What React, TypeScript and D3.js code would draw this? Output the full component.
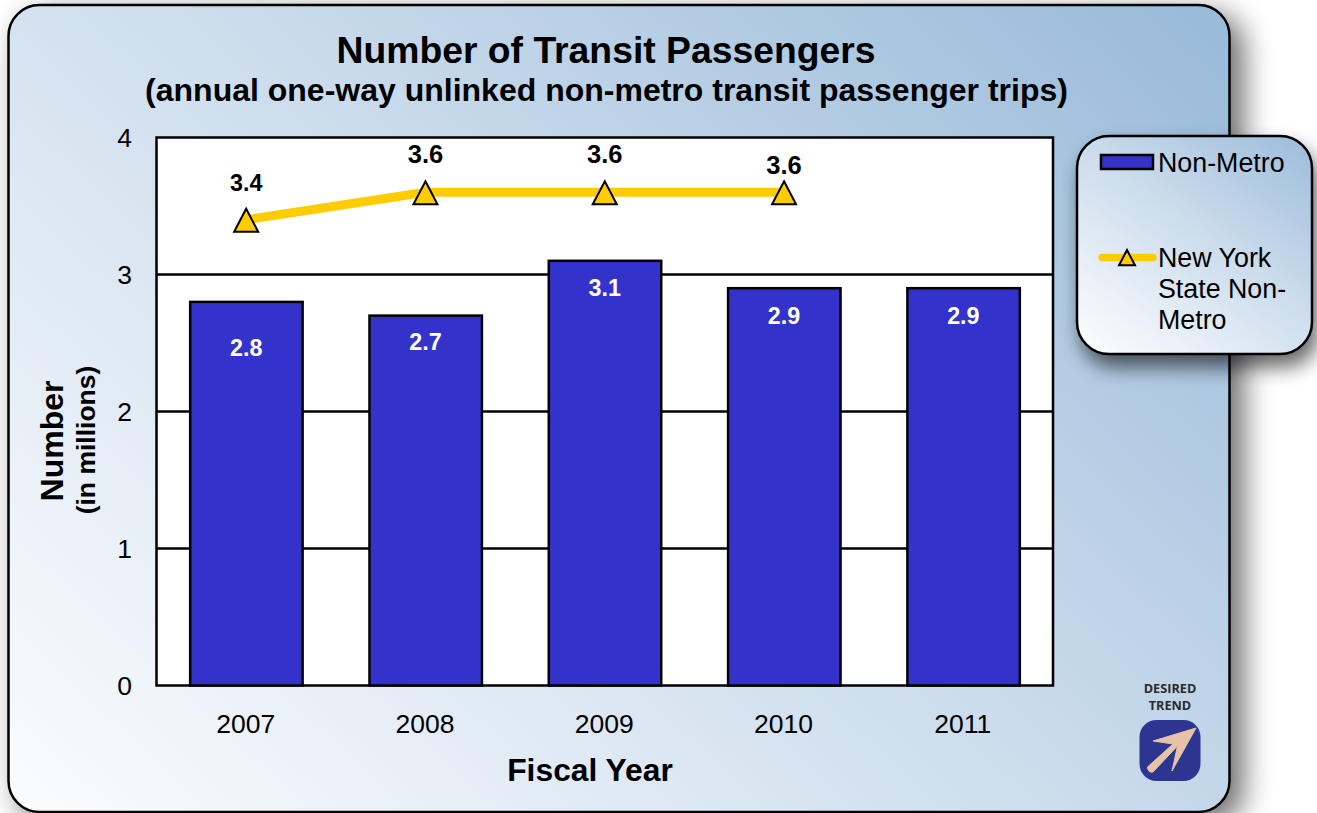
import React from "react";
import * as d3 from "d3";

const years = ["2007", "2008", "2009", "2010", "2011"];
const nonMetro = [2.8, 2.7, 3.1, 2.9, 2.9];
const nyYears = ["2007", "2008", "2009", "2010"];
const nyNonMetro = [3.4, 3.6, 3.6, 3.6];
const yTicks = [0, 1, 2, 3, 4];
const legendLines = ["New York", "State Non-", "Metro"];

const W = 1317, H = 813;
const FONT = "'Liberation Sans', Arial, sans-serif";
const plot = { l: 156.5, r: 1053, t: 137.5, b: 685.5 };

export default function App() {
  const x = d3.scaleBand<string>().domain(years).range([plot.l, plot.r]).paddingInner(0.37).paddingOuter(0.185);
  const y = d3.scaleLinear().domain([0, 4]).range([plot.b, plot.t]);
  const cx = (d: string) => (x(d) as number) + x.bandwidth() / 2;
  const line = d3.line<number>().x((_, i) => cx(nyYears[i])).y((d) => y(d));
  const tri = (px: number, py: number, s: number) =>
    `M${px},${py - s}L${px + s},${py + s * 0.92}L${px - s},${py + s * 0.92}Z`;
  // Hand-placed data labels in the source chart
  const barLabelY = (d: string, v: number) => y(v) + (d === "2007" ? 54 : d === "2008" ? 34.5 : 35.5);
  const lineLabelY = (d: string, v: number) => y(v) - 28.5 + (d === "2010" ? 10 : d === "2007" ? 0 : -1);
  return (
    <svg width={W} height={H} style={{ position: "fixed", left: 0, top: 0, display: "block", background: "#fff" }} fontFamily={FONT}>
      <defs>
        <linearGradient id="panelGrad" gradientUnits="userSpaceOnUse" x1={130} y1={1000} x2={1110} y2={-60}>
          <stop offset="0" stopColor="#ffffff" />
          <stop offset="0.55" stopColor="#cbdcec" />
          <stop offset="1" stopColor="#9abbda" />
        </linearGradient>
        <linearGradient id="legendGrad" gradientUnits="userSpaceOnUse" x1={1100} y1={375} x2={1290} y2={115}>
          <stop offset="0" stopColor="#ffffff" />
          <stop offset="0.55" stopColor="#cbdcec" />
          <stop offset="1" stopColor="#9abbda" />
        </linearGradient>
        <filter id="panelShadow" x="-5%" y="-5%" width="112%" height="115%">
          <feGaussianBlur in="SourceAlpha" stdDeviation="15" />
          <feOffset dx="12" dy="10" />
          <feComponentTransfer><feFuncA type="linear" slope="0.6" /></feComponentTransfer>
          <feMerge><feMergeNode /><feMergeNode in="SourceGraphic" /></feMerge>
        </filter>
        <filter id="legendShadow" x="-15%" y="-15%" width="135%" height="140%">
          <feGaussianBlur in="SourceAlpha" stdDeviation="10" />
          <feOffset dx="5" dy="12" />
          <feComponentTransfer><feFuncA type="linear" slope="0.6" /></feComponentTransfer>
          <feMerge><feMergeNode /><feMergeNode in="SourceGraphic" /></feMerge>
        </filter>
      </defs>

      <rect x={8.5} y={5} width={1221} height={807} rx={31} fill="url(#panelGrad)" stroke="#000" strokeWidth={2.5} filter="url(#panelShadow)" />

      <text x={606} y={63} textAnchor="middle" fontSize={37.3} fontWeight={700} fill="#000">Number of Transit Passengers</text>
      <text x={606.5} y={101} textAnchor="middle" fontSize={32} fontWeight={700} fill="#000">(annual one-way unlinked non-metro transit passenger trips)</text>

      <rect x={plot.l} y={plot.t} width={plot.r - plot.l} height={plot.b - plot.t} fill="#fff" />
      {yTicks.slice(1, 4).map((t) => (
        <line key={t} x1={plot.l} x2={plot.r} y1={y(t)} y2={y(t)} stroke="#000" strokeWidth={2.5} />
      ))}
      <rect x={plot.l} y={plot.t} width={plot.r - plot.l} height={plot.b - plot.t} fill="none" stroke="#000" strokeWidth={2.5} />

      {years.map((d, i) => (
        <g key={d}>
          <rect x={(x(d) as number) + 0.5} y={y(nonMetro[i])} width={x.bandwidth() - 0.5} height={plot.b - y(nonMetro[i])} fill="#3333cc" stroke="#000" strokeWidth={2.5} />
          <text x={cx(d)} y={barLabelY(d, nonMetro[i])} textAnchor="middle" fontSize={23.3} fontWeight={700} fill="#fff">{nonMetro[i].toFixed(1)}</text>
          <text x={cx(d) - 0.5} y={733} textAnchor="middle" fontSize={26.5} fill="#000">{d}</text>
        </g>
      ))}

      <path d={line(nyNonMetro) as string} fill="none" stroke="#ffcc00" strokeWidth={9} />
      {nyNonMetro.map((v, i) => (
        <g key={nyYears[i]}>
          <path d={tri(cx(nyYears[i]), y(v) + 1, 12)} fill="#ffcc00" stroke="#000" strokeWidth={2} />
          <text x={cx(nyYears[i])} y={lineLabelY(nyYears[i], v)} textAnchor="middle" fontSize={nyYears[i] === "2007" ? 23.3 : 25.5} fontWeight={700} fill="#000">{v.toFixed(1)}</text>
        </g>
      ))}

      {yTicks.map((t) => (
        <text key={t} x={132} y={y(t) + 9} textAnchor="end" fontSize={26.5} fill="#000">{t}</text>
      ))}

      <text transform="translate(63,441) rotate(-90)" textAnchor="middle" fontSize={32} fontWeight={700} fill="#000">Number</text>
      <text transform="translate(95,440) rotate(-90)" textAnchor="middle" fontSize={26.5} fontWeight={700} fill="#000">(in millions)</text>
      <text x={590} y={781} textAnchor="middle" fontSize={31.8} fontWeight={700} fill="#000">Fiscal Year</text>

      <rect x={1077} y={136} width={235} height={218} rx={32} fill="url(#legendGrad)" stroke="#000" strokeWidth={2.5} filter="url(#legendShadow)" />
      <rect x={1101} y={155} width={52} height={14} fill="#3333cc" stroke="#000" strokeWidth={2.5} />
      <text x={1158} y={172} fontSize={26.8} fill="#000">Non-Metro</text>
      <line x1={1102} x2={1153} y1={257.5} y2={257.5} stroke="#ffcc00" strokeWidth={7.5} strokeLinecap="round" />
      <path d={tri(1127, 258, 8)} fill="#ffcc00" stroke="#000" strokeWidth={2} />
      {legendLines.map((s, i) => (
        <text key={s} x={1158} y={267 + i * 31} fontSize={26.8} fill="#000">{s}</text>
      ))}

      <text x={1170} y={693} textAnchor="middle" fontSize={12.7} fontWeight={700} fontFamily="'Open Sans', sans-serif" fill="#2b2b2b">DESIRED</text>
      <text x={1170} y={710} textAnchor="middle" fontSize={12.7} fontWeight={700} fontFamily="'Open Sans', sans-serif" fill="#2b2b2b">TREND</text>
      <rect x={1139.5} y={720} width={61} height={61} rx={17} fill="#2e3591" />
      <path d="M1196,728 L1172,771 L1177.5,746 L1153,772 Q1148,773 1147.5,767 L1173,744 L1153,741 Z" fill="#e6c3a5" stroke="#e6c3a5" strokeWidth={1} strokeLinejoin="round" />
    </svg>
  );
}
